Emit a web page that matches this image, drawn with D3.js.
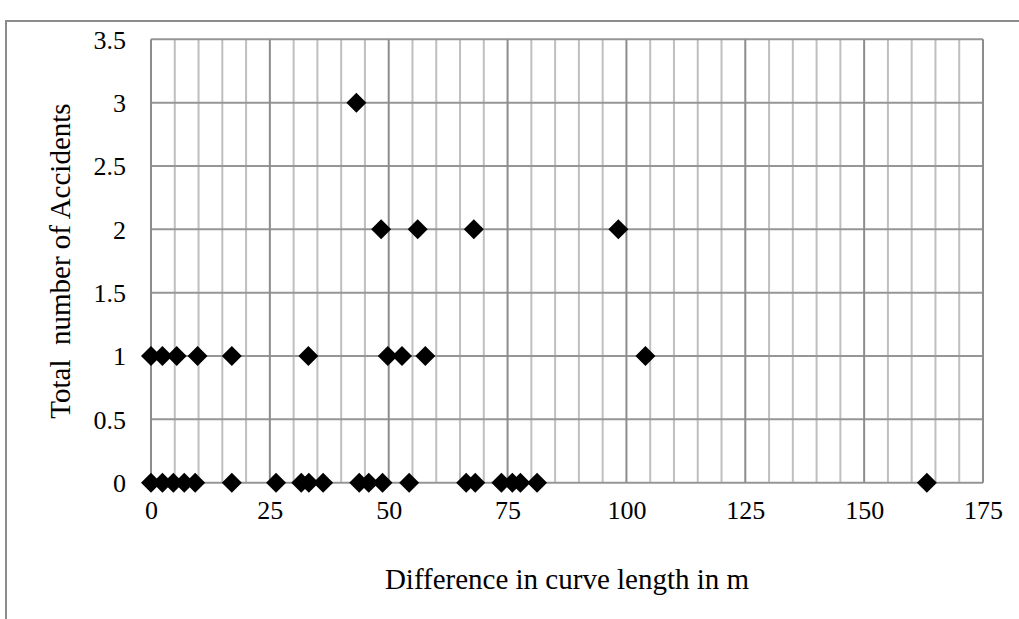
<!DOCTYPE html>
<html>
<head>
<meta charset="utf-8">
<script src="https://cdn.jsdelivr.net/npm/d3@7"></script>
<style>
  html, body { margin: 0; padding: 0; background: #fff; }
  svg { display: block; }
  text { font-family: "Liberation Serif", "Times New Roman", serif; fill: #000; }
</style>
</head>
<body>
<svg id="chart" width="1019" height="619"></svg>
<script>
// Difference in curve length (m) and total accidents per curve
const curveDiff = [
  0, 2.4, 4.7, 7.0, 9.3, 17.0, 26.3, 31.6, 33.2, 36.2, 43.8, 45.8, 48.7, 54.3,
  66.3, 68.2, 73.7, 76.0, 77.7, 81.2, 163.2,
  0, 2.4, 5.4, 9.8, 17.0, 33.1, 49.8, 52.8, 57.7, 104.0,
  48.4, 56.1, 67.9, 98.3,
  43.2
];
const accidents = [
  0, 0, 0, 0, 0, 0, 0, 0, 0, 0, 0, 0, 0, 0,
  0, 0, 0, 0, 0, 0, 0,
  1, 1, 1, 1, 1, 1, 1, 1, 1, 1,
  2, 2, 2, 2,
  3
];
const xTicks = [0, 25, 50, 75, 100, 125, 150, 175];
const yTicks = [0, 0.5, 1, 1.5, 2, 2.5, 3, 3.5];
const xMinorStep = 5;

const svg = d3.select("#chart");
const plot = { left: 151, right: 983, top: 39.3, bottom: 482.7 };

const x = d3.scaleLinear().domain([0, 175]).range([plot.left, plot.right]);
const y = d3.scaleLinear().domain([0, 3.5]).range([plot.bottom, plot.top]);

// outer chart frame
svg.append("path")
  .attr("d", "M6,619 V21 H1019")
  .attr("fill", "none").attr("stroke", "#8c8c8c").attr("stroke-width", 2);

// minor vertical gridlines
const minor = d3.range(0, 175 + 0.001, xMinorStep).filter(v => v % 25 !== 0);
svg.append("g").selectAll("line").data(minor).join("line")
  .attr("x1", d => x(d)).attr("x2", d => x(d))
  .attr("y1", plot.top).attr("y2", plot.bottom)
  .attr("stroke", "#bfbfbf").attr("stroke-width", 2);

// horizontal gridlines
svg.append("g").selectAll("line").data(yTicks).join("line")
  .attr("x1", plot.left).attr("x2", plot.right)
  .attr("y1", d => y(d)).attr("y2", d => y(d))
  .attr("stroke", "#969696").attr("stroke-width", 2);

// major vertical gridlines
svg.append("g").selectAll("line").data(xTicks).join("line")
  .attr("x1", d => x(d)).attr("x2", d => x(d))
  .attr("y1", plot.top).attr("y2", plot.bottom)
  .attr("stroke", "#8c8c8c").attr("stroke-width", 2);

// tick labels drawn through d3 axes (axis lines hidden)
const tickFont = "26px";
const xAxis = svg.append("g")
  .attr("transform", `translate(0,${plot.bottom})`)
  .call(d3.axisBottom(x).tickValues(xTicks).tickSize(0).tickPadding(0).tickFormat(d3.format("d")));
xAxis.selectAll("text").attr("y", 36).attr("dy", null);
const yAxis = svg.append("g")
  .attr("transform", `translate(${plot.left},0)`)
  .call(d3.axisLeft(y).tickValues(yTicks).tickSize(0).tickPadding(25).tickFormat(d => String(d)));
yAxis.selectAll("text").attr("dy", "0.34em");
[xAxis, yAxis].forEach(g => {
  g.select(".domain").remove();
  g.selectAll("text")
    .style("font-family", '"Liberation Serif", serif')
    .style("font-size", tickFont)
    .attr("fill", "#000");
});

// axis titles
svg.append("text")
  .attr("x", x(87.5)).attr("y", 589)
  .attr("text-anchor", "middle").style("font-size", "29px")
  .text("Difference in curve length in m");
svg.append("text")
  .attr("transform", `translate(70,${(plot.top + plot.bottom) / 2}) rotate(-90)`)
  .attr("text-anchor", "middle").style("font-size", "29px")
  .style("white-space", "pre")
  .text("Total  number of Accidents");

// diamond markers
const pts = curveDiff.map((d, i) => ({ d, a: accidents[i] }));
const diamond = d3.symbol().type(d3.symbolSquare).size(200);
svg.append("g").selectAll("path").data(pts).join("path")
  .attr("d", diamond)
  .attr("transform", p => `translate(${x(p.d)},${y(p.a)}) rotate(45)`)
  .attr("fill", "#000");
</script>
</body>
</html>
